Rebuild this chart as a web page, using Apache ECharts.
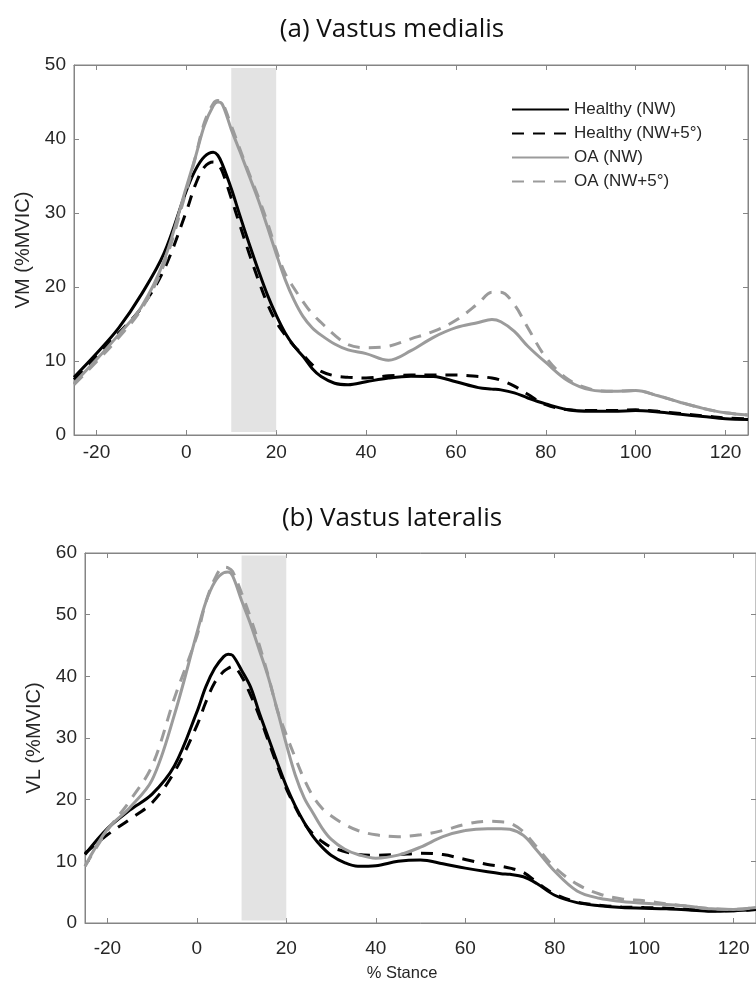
<!DOCTYPE html>
<html><head><meta charset="utf-8">
<script src="https://cdn.jsdelivr.net/npm/echarts@6/dist/echarts.min.js"></script>
<style>html,body{margin:0;padding:0;background:#fff}#c{width:756px;height:992px}</style>
</head><body><div id="c"></div>
<script>
// % stance grid shared by all curves
const stance = [-25,-20,-15,-10,-5,0,2,4,6,7,8,10,12,14,16,18,20,22,24,26,28,30,33,36,40,45,50,55,60,65,68,70,73,76,80,85,90,95,100,105,110,115,120,125];

// (a) Vastus medialis
const vmHealthyNW  = [7.8,11.0,14.5,19.0,24.5,33.0,35.8,37.6,38.2,37.8,36.6,33.3,29.5,25.8,22.3,19.0,16.2,13.8,12.0,10.6,9.0,7.9,7.0,6.8,7.2,7.7,7.95,7.9,7.2,6.4,6.2,6.1,5.7,5.0,4.2,3.4,3.2,3.2,3.3,3.1,2.8,2.5,2.2,2.1];
const vmHealthyNW5 = [7.5,10.6,13.8,17.2,22.3,30.2,33.8,36.2,36.9,36.6,35.6,32.0,28.2,24.5,21.0,17.8,15.3,13.5,12.0,10.8,9.5,8.6,8.0,7.8,7.7,8.0,8.1,8.1,8.1,7.9,7.7,7.4,6.6,5.5,4.1,3.4,3.3,3.3,3.4,3.2,2.9,2.6,2.3,2.2];
const vmOANW       = [7.0,10.2,13.6,17.3,23.5,33.5,37.5,41.8,44.5,45.0,44.7,41.3,38.2,35.0,31.8,28.2,24.5,21.0,18.2,16.0,14.5,13.5,12.3,11.5,11.0,10.1,11.4,13.2,14.5,15.2,15.6,15.3,14.0,12.0,9.8,7.3,6.1,5.9,6.0,5.3,4.4,3.6,3.0,2.7];
const vmOANW5      = [6.8,9.9,13.2,17.0,23.0,33.0,37.5,42.2,44.8,45.2,44.9,41.8,38.5,35.3,32.2,28.8,25.0,21.8,19.8,18.0,16.4,15.2,13.5,12.2,11.8,12.0,13.0,14.0,15.5,17.8,19.3,19.3,17.6,14.5,10.5,7.5,6.2,5.9,6.0,5.3,4.4,3.6,3.0,2.7];

// (b) Vastus lateralis
const vlHealthyNW  = [11.1,15.3,18.3,20.9,25.5,34.2,38.3,41.3,43.2,43.6,43.4,41.0,38.3,34.0,30.0,26.0,22.2,19.0,16.3,14.0,12.3,11.0,9.8,9.2,9.3,10.0,10.2,9.6,8.9,8.3,8.0,7.9,7.5,6.4,4.5,3.3,2.8,2.5,2.4,2.3,2.1,1.9,2.0,2.2];
const vlHealthyNW5 = [11.3,14.3,16.8,19.5,24.5,32.0,35.8,39.0,40.8,41.3,41.6,40.0,37.0,33.5,29.5,25.5,21.8,18.8,16.2,14.4,13.2,12.3,11.6,11.1,11.0,11.1,11.3,11.1,10.3,9.5,9.2,8.9,8.2,6.6,4.7,3.4,2.9,2.6,2.5,2.4,2.2,2.0,2.0,2.2];
const vlOANW       = [9.2,15.2,18.7,23.2,33.8,47.0,52.0,55.3,56.8,56.9,56.3,52.3,48.5,44.2,39.8,34.5,29.0,24.0,20.3,17.8,15.4,13.6,12.0,11.1,10.5,11.0,12.3,14.0,15.0,15.3,15.3,15.2,14.2,11.8,8.4,5.2,4.0,3.5,3.2,3.0,2.7,2.3,2.2,2.5];
const vlOANW5      = [9.2,15.0,19.8,25.5,36.5,46.5,52.0,55.8,57.7,57.6,57.0,53.5,49.5,45.0,40.0,34.5,30.5,26.8,23.3,20.5,18.6,17.4,16.0,15.0,14.3,14.0,14.3,15.0,16.0,16.5,16.4,16.2,14.8,12.3,9.0,6.3,4.7,3.9,3.6,3.1,2.7,2.3,2.2,2.5];

const seriesNames = ['Healthy (NW)', 'Healthy (NW+5°)', 'OA (NW)', 'OA (NW+5°)'];
const xTicks = [-20, 0, 20, 40, 60, 80, 100, 120];
const xRange = [-25, 125];
const vmRange = [0, 50];
const vlRange = [0, 60];
const shadedStance = [10, 20];
const titles = ['(a) Vastus medialis', '(b) Vastus lateralis'];
const yNames = ['VM (%MVIC)', 'VL (%MVIC)'];
const xName = '% Stance';

const AX = '#858585';
const TXT = '#262626';
const F = 'Liberation Sans, Arial, sans-serif';
const styles = [
  {color: '#000000', type: 'solid'},
  {color: '#000000', type: [12, 9]},
  {color: '#9b9b9b', type: 'solid'},
  {color: '#9b9b9b', type: [12, 9]}
];

function pairs(arr) { return stance.map((x, i) => [x, arr[i]]); }

function xAxes(grid) {
  return [
    {type: 'value', gridIndex: grid, min: xRange[0], max: xRange[1], position: 'bottom',
     splitLine: {show: false}, axisLine: {show: true, onZero: false, lineStyle: {color: AX}},
     axisTick: {show: true, inside: true, length: 5, customValues: xTicks, lineStyle: {color: AX}},
     axisLabel: {show: true, customValues: xTicks, color: TXT, fontFamily: F, fontSize: 19, margin: grid === 0 ? 8 : 16}},
    {type: 'value', gridIndex: grid, min: xRange[0], max: xRange[1], position: 'top',
     splitLine: {show: false}, axisLine: {show: true, onZero: false, lineStyle: {color: AX}},
     axisTick: {show: true, inside: true, length: 5, customValues: xTicks, lineStyle: {color: AX}},
     axisLabel: {show: false}}
  ];
}
function yAxes(grid, range, name, gap) {
  return [
    {type: 'value', gridIndex: grid, min: range[0], max: range[1], interval: 10, position: 'left',
     splitLine: {show: false}, axisLine: {show: true, onZero: false, lineStyle: {color: AX}},
     axisTick: {show: true, inside: true, length: 5, lineStyle: {color: AX}},
     axisLabel: {color: TXT, fontFamily: F, fontSize: 19, margin: 8},
     name: name, nameLocation: 'middle', nameGap: gap, nameRotate: 90,
     nameTextStyle: {color: TXT, fontFamily: F, fontSize: 20}},
    {type: 'value', gridIndex: grid, min: range[0], max: range[1], interval: 10, position: 'right',
     splitLine: {show: false}, axisLine: {show: true, onZero: false, lineStyle: {color: AX}},
     axisTick: {show: true, inside: true, length: 5, lineStyle: {color: AX}},
     axisLabel: {show: false}}
  ];
}

const panels = [
  {data: [vmHealthyNW, vmHealthyNW5, vmOANW, vmOANW5], range: vmRange},
  {data: [vlHealthyNW, vlHealthyNW5, vlOANW, vlOANW5], range: vlRange}
];

const series = [];
panels.forEach((p, g) => {
  series.push({
    type: 'line', xAxisIndex: g * 2, yAxisIndex: g * 2, data: [], z: 1, silent: true,
    markArea: {silent: true, itemStyle: {color: '#e3e3e3'},
      data: [[{coord: [shadedStance[0], p.range[0] + 0.4]}, {coord: [shadedStance[1], p.range[1] - 0.4]}]]}
  });
  p.data.forEach((arr, k) => {
    series.push({
      name: seriesNames[k], type: 'line', xAxisIndex: g * 2, yAxisIndex: g * 2,
      data: pairs(arr), smooth: 0.35, symbol: 'none', z: 3 + k,
      lineStyle: {color: styles[k].color, type: styles[k].type, width: 3},
      itemStyle: {color: styles[k].color}
    });
  });
});

const titleStyle = {fontFamily: 'Open Sans, sans-serif', fontWeight: 'normal', fontSize: 26, color: '#111'};
const chart = echarts.init(document.getElementById('c'), null, {renderer: 'canvas'});
chart.setOption({
  animation: false,
  backgroundColor: '#ffffff',
  title: [
    {text: titles[0], left: 387, textAlign: 'center', top: 12, textStyle: titleStyle},
    {text: titles[1], left: 387, textAlign: 'center', top: 501, textStyle: titleStyle},
    {text: xName, left: 397, textAlign: 'center', top: 960,
     textStyle: {fontFamily: F, fontWeight: 'normal', fontSize: 16.5, color: TXT}}
  ],
  legend: {
    data: seriesNames, orient: 'vertical', left: 506, top: 96,
    itemWidth: 57, itemHeight: 12, itemGap: 7,
    itemStyle: {opacity: 0},
    textStyle: {fontFamily: F, fontSize: 17, color: TXT},
    selectedMode: false
  },
  grid: [
    {left: 74, top: 65, width: 674, height: 370, show: true, borderColor: AX, borderWidth: 1, backgroundColor: 'transparent'},
    {left: 85, top: 553, width: 675, height: 370, show: true, borderColor: AX, borderWidth: 1, backgroundColor: 'transparent'}
  ],
  xAxis: [...xAxes(0), ...xAxes(1)],
  yAxis: [...yAxes(0, vmRange, yNames[0], 41), ...yAxes(1, vlRange, yNames[1], 41)],
  series: series
});
</script>
</body></html>
